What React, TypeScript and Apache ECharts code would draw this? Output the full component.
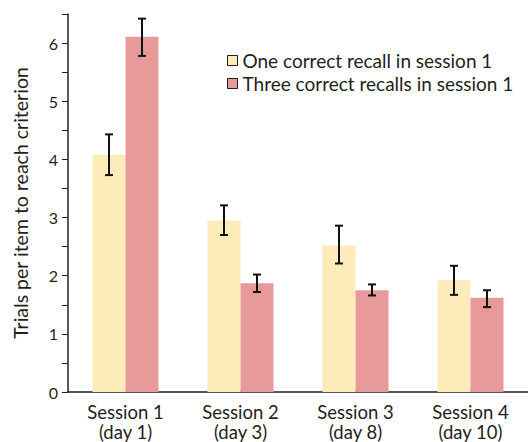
import React, { useEffect, useRef } from "react";
import * as echarts from "echarts";

const categories = ["Session 1\n(day 1)", "Session 2\n(day 3)", "Session 3\n(day 8)", "Session 4\n(day 10)"];
const seriesNames = ["One correct recall in session 1", "Three correct recalls in session 1"];
const oneCorrect = [4.08, 2.95, 2.52, 1.92];
const oneLow = [3.73, 2.7, 2.21, 1.67];
const oneHigh = [4.43, 3.21, 2.86, 2.17];
const threeCorrect = [6.11, 1.87, 1.75, 1.62];
const threeLow = [5.78, 1.72, 1.66, 1.46];
const threeHigh = [6.42, 2.02, 1.85, 1.75];
const yTicks = [0, 1, 2, 3, 4, 5, 6];

const YELLOW = "#FEEBBA";
const PINK = "#E89A9B";
const INK = "#231F20";
const FONT = "Lato";
const BAR_W = 33;

function errorSeries(low: number[], high: number[], offset: number) {
  return {
    type: "custom",
    silent: true,
    z: 10,
    data: low.map((l, i) => [i, l, high[i]]),
    encode: { x: 0, y: [1, 2] },
    renderItem: (params: any, api: any) => {
      const i = api.value(0);
      const lo = api.coord([i, api.value(1)]);
      const hi = api.coord([i, api.value(2)]);
      const x = lo[0] + offset;
      const cap = 4;
      const style = { stroke: "#111", lineWidth: 2 };
      return {
        type: "group",
        children: [
          { type: "line", shape: { x1: x, y1: lo[1], x2: x, y2: hi[1] }, style },
          { type: "line", shape: { x1: x - cap, y1: lo[1], x2: x + cap, y2: lo[1] }, style },
          { type: "line", shape: { x1: x - cap, y1: hi[1], x2: x + cap, y2: hi[1] }, style },
        ],
      };
    },
  };
}

export default function App() {
  const ref = useRef<HTMLDivElement>(null);
  useEffect(() => {
    const chart = echarts.init(ref.current!, null, { renderer: "svg" });
    chart.setOption({
      animation: false,
      textStyle: { fontFamily: FONT, color: INK },
      grid: { left: 68, right: -3, top: 14, bottom: 49 },
      legend: {
        orient: "vertical",
        left: 222,
        top: 46,
        itemWidth: 10,
        itemHeight: 10,
        itemGap: 4,
        icon: "rect",
        textStyle: { fontFamily: FONT, fontSize: 19, color: INK, lineHeight: 19 },
        data: seriesNames.map((n) => ({ name: n, itemStyle: { borderColor: INK, borderWidth: 1 } })),
      },
      xAxis: {
        type: "category",
        data: categories,
        axisLine: { lineStyle: { color: INK, width: 1.5 } },
        axisTick: { show: false },
        axisLabel: { fontFamily: FONT, fontSize: 18.5, color: INK, lineHeight: 20, margin: 10 },
      },
      yAxis: {
        type: "value",
        min: 0,
        max: 6.5,
        interval: 0.5,
        name: "Trials per item to reach criterion",
        nameLocation: "middle",
        nameGap: 38,
        nameTextStyle: { fontFamily: FONT, fontSize: 19.5, color: INK },
        axisLine: { show: true, lineStyle: { color: INK, width: 1.5 } },
        axisTick: { show: true, length: 6, lineStyle: { color: INK } },
        splitLine: { show: false },
        axisLabel: {
          fontFamily: FONT,
          fontSize: 16,
          color: INK,
          margin: 10,
          formatter: (v: number) => (yTicks.includes(v) ? String(v) : ""),
        },
      },
      series: [
        {
          name: seriesNames[0],
          type: "bar",
          data: oneCorrect,
          barWidth: BAR_W,
          barGap: "0%",
          itemStyle: { color: YELLOW },
        },
        {
          name: seriesNames[1],
          type: "bar",
          data: threeCorrect,
          barWidth: BAR_W,
          barGap: "0%",
          itemStyle: { color: PINK },
        },
        errorSeries(oneLow, oneHigh, -BAR_W / 2),
        errorSeries(threeLow, threeHigh, BAR_W / 2),
      ],
    });
    return () => chart.dispose();
  }, []);
  return <div ref={ref} style={{ width: 528, height: 442, position: "absolute", left: 0, top: 0 }} />;
}
